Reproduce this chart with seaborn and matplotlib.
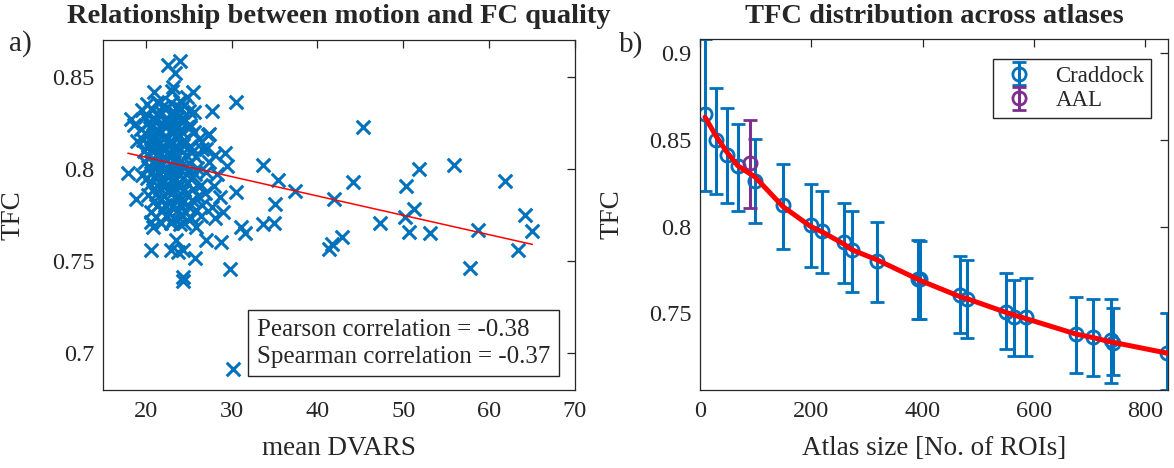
import numpy as np
import pandas as pd
import matplotlib
matplotlib.use("Agg")
import matplotlib.pyplot as plt
import seaborn as sns

## ----------------------------------------------- Data ----------------------------------------------- ##
# panel a) - mean DVARS vs TFC per subject (read off the picture)
dvars_out = [22.6, 23.95, 23.4, 23.2, 23.0, 21.0, 25.5, 24.8, 21.5, 24.0, 25.6, 27.65, 30.56,
             18.3, 18.6, 19.0, 27.25, 27.4, 25.1, 27.06, 28.03, 29.2, 29.4, 17.93, 19.56,
             33.66, 35.4, 30.56, 28.6, 18.9, 35.0, 37.4, 20.65, 20.84, 22.98, 24.5, 25.9,
             27.06, 28.8, 31.14, 31.5, 33.66, 34.9, 20.65, 22.98, 23.5, 23.75, 24.34, 25.7,
             29.78, 24.27, 24.3, 30.2, 28.3, 27.9, 26.9, 27.7, 29.0, 26.4, 28.1, 25.9,
             41.3, 41.75, 42.8, 41.9, 44.1, 45.25, 47.3, 50.3, 50.2, 50.7, 51.3, 51.8,
             53.1, 55.9, 57.75, 58.7, 61.8, 63.4, 64.2, 65.05]
tfc_out = [0.8565, 0.8583, 0.8518, 0.8442, 0.8425, 0.842, 0.8415, 0.8392, 0.8355, 0.8366, 0.8307, 0.8312, 0.8361,
           0.8271, 0.824, 0.8154, 0.8186, 0.8192, 0.8226, 0.8109, 0.8073, 0.8085, 0.8014, 0.7977, 0.7965,
           0.8019, 0.7938, 0.7875, 0.7848, 0.7834, 0.7812, 0.788, 0.7712, 0.7685, 0.7704, 0.7707, 0.7682,
           0.7614, 0.7604, 0.7685, 0.765, 0.770, 0.7707, 0.7559, 0.7559, 0.7614, 0.755, 0.7559, 0.7515,
           0.7455, 0.7412, 0.7392, 0.6916, 0.797, 0.7905, 0.7868, 0.7795, 0.7765, 0.7745, 0.7735, 0.7775,
           0.7563, 0.7592, 0.7632, 0.7834, 0.7929, 0.823, 0.7704, 0.7905, 0.774, 0.7655, 0.7785, 0.8001,
           0.765, 0.8023, 0.746, 0.7671, 0.7934, 0.7559, 0.7749, 0.7662]

# the dense blob around 20-26 DVARS
dvars_core = [20.1, 21.3, 22.0, 22.9, 23.6, 24.4,
              19.6, 20.6, 21.7, 22.5, 23.3, 24.1, 25.0,
              19.9, 20.9, 21.5, 22.2, 23.0, 23.8, 24.6,
              20.3, 21.1, 21.9, 22.7, 23.5, 24.2, 25.2,
              19.4, 20.5, 21.4, 22.4, 23.1, 24.0, 24.8,
              20.0, 20.8, 21.6, 22.3, 23.2, 23.9, 25.6,
              19.7, 20.7, 21.2, 22.1, 22.9, 23.7, 24.5, 26.2,
              20.2, 21.0, 21.8, 22.6, 23.4, 24.3, 25.1,
              19.8, 20.6, 21.5, 22.4, 23.2, 24.0, 25.4, 26.6,
              20.4, 21.3, 22.0, 22.8, 23.6, 24.7, 25.8,
              19.9, 20.9, 21.7, 22.5, 23.3, 24.1, 25.0, 27.3,
              20.3, 21.2, 22.2, 23.0, 23.9, 24.6, 26.0,
              20.6, 21.4, 22.3, 23.1, 23.8, 24.9, 25.7, 27.0,
              20.1, 21.0, 21.9, 22.7, 23.5, 24.3, 25.3,
              20.5, 21.6, 22.4, 23.2, 24.0, 24.8, 26.4,
              20.8, 21.7, 22.6, 23.4, 24.5, 25.5,
              20.3, 21.2, 22.1, 23.0, 23.9, 24.7, 26.1,
              20.9, 21.8, 22.8, 23.6, 24.4, 25.4,
              21.3, 22.2, 23.1, 24.0, 25.0, 26.5,
              20.6, 21.9, 22.7, 23.7, 24.6,
              21.2, 22.4, 23.3, 24.2, 25.3,
              21.8, 23.0, 24.0]
tfc_core = [0.8350, 0.8362, 0.8341, 0.8356, 0.8338, 0.8347,
            0.8318, 0.8327, 0.8312, 0.8331, 0.8309, 0.8324, 0.8315,
            0.8283, 0.8276, 0.8291, 0.8270, 0.8286, 0.8279, 0.8268,
            0.8248, 0.8256, 0.8241, 0.8253, 0.8245, 0.8258, 0.8239,
            0.8216, 0.8223, 0.8211, 0.8228, 0.8219, 0.8212, 0.8225,
            0.8192, 0.8184, 0.8197, 0.8181, 0.8193, 0.8186, 0.8199,
            0.8158, 0.8165, 0.8151, 0.8162, 0.8154, 0.8168, 0.8157, 0.8161,
            0.8127, 0.8134, 0.8121, 0.8138, 0.8125, 0.8131, 0.8123,
            0.8098, 0.8104, 0.8091, 0.8107, 0.8095, 0.8102, 0.8093, 0.8106,
            0.8068, 0.8075, 0.8062, 0.8073, 0.8066, 0.8077, 0.8064,
            0.8037, 0.8044, 0.8031, 0.8046, 0.8035, 0.8042, 0.8033, 0.8039,
            0.8008, 0.8014, 0.8002, 0.8017, 0.8005, 0.8011, 0.8003,
            0.7978, 0.7985, 0.7972, 0.7987, 0.7975, 0.7982, 0.7973, 0.7981,
            0.7948, 0.7955, 0.7942, 0.7957, 0.7945, 0.7952, 0.7943,
            0.7918, 0.7925, 0.7912, 0.7927, 0.7915, 0.7922, 0.7913,
            0.7888, 0.7895, 0.7882, 0.7897, 0.7885, 0.7892,
            0.7858, 0.7865, 0.7852, 0.7867, 0.7855, 0.7862, 0.7853,
            0.7828, 0.7835, 0.7822, 0.7837, 0.7825, 0.7832,
            0.7798, 0.7805, 0.7792, 0.7807, 0.7795, 0.7802,
            0.7768, 0.7775, 0.7762, 0.7777, 0.7765,
            0.7738, 0.7745, 0.7732, 0.7747, 0.7735,
            0.7708, 0.7715, 0.7702]

# regression line end points
reg_x = [17.9, 65.05]
reg_y = [0.8085, 0.759]

pearson_r = -0.38
spearman_r = -0.37

# panel b) - TFC per atlas (mean with lower/upper bound)
crad_size = [9, 29, 48, 68, 99, 149, 199, 219, 258, 273, 318, 391, 395, 468, 479,
             550, 564, 585, 676, 706, 738, 742, 840]
crad_mean = [0.865, 0.850, 0.8414, 0.835, 0.8265, 0.8125, 0.801, 0.7975, 0.791, 0.7866, 0.780,
             0.770, 0.7695, 0.7606, 0.7581, 0.7506, 0.7481, 0.7477, 0.738, 0.7366, 0.7345, 0.733, 0.727]
crad_lo = [0.8206, 0.8189, 0.8135, 0.8092, 0.802, 0.787, 0.7764, 0.7735, 0.7675, 0.7625, 0.7564,
           0.7466, 0.747, 0.7389, 0.736, 0.7293, 0.7254, 0.7254, 0.7155, 0.7141, 0.7097, 0.7145, 0.706]
crad_hi = [0.908, 0.8798, 0.8683, 0.859, 0.8504, 0.8362, 0.8245, 0.8202, 0.8138, 0.8087, 0.8025,
           0.7923, 0.7918, 0.7833, 0.7808, 0.7731, 0.7692, 0.7702, 0.7596, 0.7583, 0.7583, 0.7533, 0.750]
crad_fit = [0.863, 0.852, 0.843, 0.835, 0.8285, 0.8115, 0.800, 0.797, 0.790, 0.7866, 0.7808,
            0.7697, 0.769, 0.7595, 0.7585, 0.7505, 0.749, 0.747, 0.738, 0.736, 0.7335, 0.7333, 0.727]

aal_size = [90]
aal_mean = [0.8366]
aal_lo = [0.8106]
aal_hi = [0.8615]

## ----------------------------------------------- Style ----------------------------------------------- ##
sns.set_theme(style="white")
plt.rcParams["font.family"] = ["Liberation Serif", "DejaVu Serif"]

blue = "#0072BD"
purple = "#7E2F8E"
dark = "#262626"

fig = plt.figure(figsize=(11.74, 4.68), dpi=100)
ax1 = fig.add_axes([0.0877, 0.1667, 0.402, 0.748])
ax2 = fig.add_axes([0.5963, 0.1667, 0.3986, 0.750])

## ----------------------------------------------- Panel a ----------------------------------------------- ##
df_a = pd.DataFrame({"dvars": dvars_out + dvars_core, "tfc": tfc_out + tfc_core})
sns.scatterplot(data=df_a, x="dvars", y="tfc", marker="x", s=95, color=blue,
                linewidth=2.2, ax=ax1, zorder=2)
sns.lineplot(x=reg_x, y=reg_y, color="red", linewidth=1.1, ax=ax1, zorder=3)

ax1.set_xlim(15, 70)
ax1.set_ylim(0.68, 0.87)
ax1.set_xticks([20, 30, 40, 50, 60, 70])
ax1.set_yticks([0.7, 0.75, 0.8, 0.85])
ax1.set_yticklabels(["0.7", "0.75", "0.8", "0.85"])
ax1.set_xlabel("mean DVARS", fontsize=19.5)
ax1.set_ylabel("TFC", fontsize=19.5)

ax1.text(0.326, 0.134,
         f"Pearson correlation = {pearson_r:.2f}\nSpearman correlation = {spearman_r:.2f}",
         transform=ax1.transAxes, ha="left", va="center", fontsize=18, linespacing=1.3,
         bbox=dict(boxstyle="square,pad=0.35", facecolor="white", edgecolor=dark, linewidth=1))

## ----------------------------------------------- Panel b ----------------------------------------------- ##
crad = np.array(crad_mean)
ax2.errorbar(crad_size, crad_mean, yerr=[crad - np.array(crad_lo), np.array(crad_hi) - crad],
             fmt="o", mfc="none", mec=blue, ecolor=blue, ms=9.5, mew=2, elinewidth=2.2,
             capsize=5, capthick=2.2, label="Craddock", zorder=2)
aal = np.array(aal_mean)
ax2.errorbar(aal_size, aal_mean, yerr=[aal - np.array(aal_lo), np.array(aal_hi) - aal],
             fmt="o", mfc="none", mec=purple, ecolor=purple, ms=9.5, mew=2, elinewidth=2.2,
             capsize=5, capthick=2.2, label="AAL", zorder=2)
sns.lineplot(x=crad_size, y=crad_fit, sort=False, color="red", linewidth=3.6, ax=ax2, zorder=3)

ax2.set_xlim(0, 841)
ax2.set_ylim(0.7058, 0.9081)
ax2.set_xticks([0, 200, 400, 600, 800])
ax2.set_yticks([0.75, 0.8, 0.85, 0.9])
ax2.set_yticklabels(["0.75", "0.8", "0.85", "0.9"])
ax2.set_xlabel("Atlas size [No. of ROIs]", fontsize=19.5)
ax2.set_ylabel("TFC", fontsize=19.5)

leg = ax2.legend(loc="upper right", bbox_to_anchor=(0.964, 0.943), borderaxespad=0,
                 fontsize=16.5, frameon=True, fancybox=False, framealpha=1, edgecolor=dark,
                 handlelength=1.6, handletextpad=0.8, borderpad=0.3, labelspacing=0.15)
leg.get_frame().set_linewidth(1)

## ----------------------------------------------- Axes polish ----------------------------------------------- ##
for ax, lx in [(ax1, -0.165), (ax2, -0.162)]:
    for sp in ax.spines.values():
        sp.set_visible(True)
        sp.set_color(dark)
        sp.set_linewidth(0.9)
    ax.tick_params(direction="in", length=6, width=0.9, colors=dark, labelsize=17.5,
                   top=True, right=True, pad=8)
    ax.tick_params(axis="y", pad=6)
    ax.yaxis.set_label_coords(lx, 0.5)
    ax.xaxis.set_label_coords(0.5, -0.132)
    ax.grid(False)

fig.text(0.2888, 0.965, "Relationship between motion and FC quality", ha="center", va="center",
         fontsize=20.5, fontweight="bold")
fig.text(0.7956, 0.965, "TFC distribution across atlases", ha="center", va="center",
         fontsize=20.5, fontweight="bold")
fig.text(0.017, 0.906, "a)", ha="center", va="center", fontsize=21)
fig.text(0.538, 0.904, "b)", ha="center", va="center", fontsize=21)

plt.savefig("out.png", dpi=100)
